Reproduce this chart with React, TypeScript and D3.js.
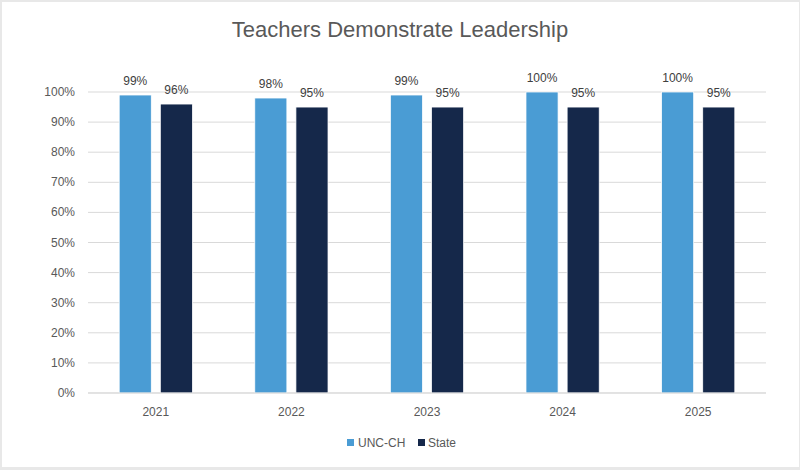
import React from "react";
import * as d3 from "d3";

const years = ["2021", "2022", "2023", "2024", "2025"];
const seriesNames = ["UNC-CH", "State"];
const uncValues = [99, 98, 99, 100, 100];
const stateValues = [96, 95, 95, 95, 95];
const yTicks = [0, 10, 20, 30, 40, 50, 60, 70, 80, 90, 100];
const colors = ["#4a9cd4", "#15284a"];

const W = 800;
const H = 470;
const left = 88;
const right = 766;
const top = 92;
const bottom = 393;

export default function App() {
  const values = [uncValues, stateValues];
  const x0 = d3.scaleBand<string>().domain(years).range([left, right]).paddingInner(0.46).paddingOuter(0.23);
  const x1 = d3.scaleBand<string>().domain(seriesNames).range([0, x0.bandwidth()]).paddingInner(0.22).paddingOuter(0);
  const y = d3.scaleLinear().domain([0, 100]).range([bottom, top]);
  const font = "'Liberation Sans', Arial, sans-serif";

  return (
    <svg width={W} height={H} style={{ position: "absolute", left: 0, top: 0 }} fontFamily={font}>
      <rect x={0} y={0} width={W} height={H} fill="#e8e8e8" />
      <rect x={2} y={2} width={W - 3} height={H - 5} fill="#ffffff" />
      <text x={400} y={37} textAnchor="middle" fontSize={22} fill="#595959">
        Teachers Demonstrate Leadership
      </text>
      {yTicks.map((t) => (
        <g key={t}>
          <line x1={left} x2={right} y1={y(t)} y2={y(t)} stroke="#d9d9d9" strokeWidth={1} />
          <text x={75} y={y(t) + 4} textAnchor="end" fontSize={12} fill="#595959">
            {t}%
          </text>
        </g>
      ))}
      {years.map((yr, i) => (
        <g key={yr}>
          {seriesNames.map((s, j) => {
            const v = values[j][i];
            const bx = (x0(yr) as number) + (x1(s) as number);
            return (
              <g key={s}>
                <rect x={bx} y={y(v)} width={x1.bandwidth()} height={bottom - y(v)} fill={colors[j]} stroke="#ffffff" strokeWidth={0.75} />
                <text x={bx + x1.bandwidth() / 2} y={y(v) - 10} textAnchor="middle" fontSize={12} fill="#404040">
                  {v}%
                </text>
              </g>
            );
          })}
          <text x={(x0(yr) as number) + x0.bandwidth() / 2} y={416} textAnchor="middle" fontSize={12} fill="#595959">
            {yr}
          </text>
        </g>
      ))}
      <line x1={left} x2={right} y1={bottom} y2={bottom} stroke="#d9d9d9" strokeWidth={1} />
      <g>
        <rect x={347} y={439} width={7} height={7} fill={colors[0]} />
        <text x={358} y={447} fontSize={12} fill="#595959">{seriesNames[0]}</text>
        <rect x={418} y={439} width={7} height={7} fill={colors[1]} />
        <text x={428} y={447} fontSize={12} fill="#595959">{seriesNames[1]}</text>
      </g>
    </svg>
  );
}
